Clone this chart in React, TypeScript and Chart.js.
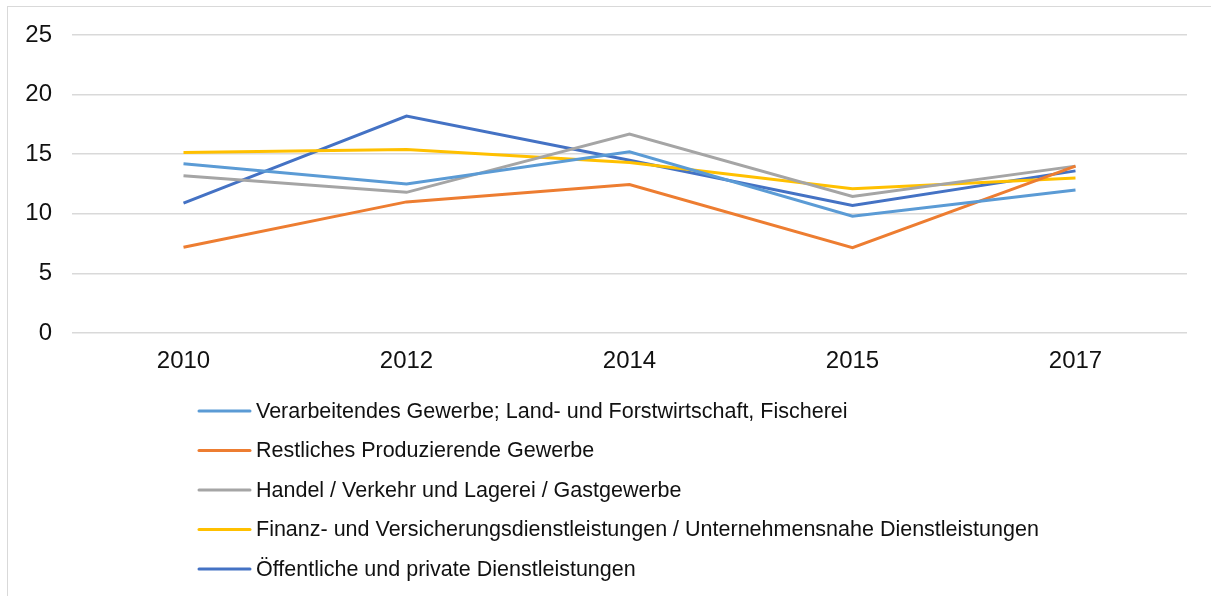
import React, { useEffect, useRef } from "react";
import { Chart, registerables } from "chart.js";

Chart.register(...registerables);

const categories = ["2010", "2012", "2014", "2015", "2017"];

const seriesLabels = [
  "Verarbeitendes Gewerbe; Land- und Forstwirtschaft, Fischerei",
  "Restliches Produzierende Gewerbe",
  "Handel / Verkehr und Lagerei / Gastgewerbe",
  "Finanz- und Versicherungsdienstleistungen / Unternehmensnahe Dienstleistungen",
  "Öffentliche und private Dienstleistungen",
];

const verarbeitendes = [14.2, 12.5, 15.2, 9.8, 12.0];
const restliches = [7.2, 11.0, 12.45, 7.15, 14.0];
const handel = [13.2, 11.8, 16.7, 11.45, 14.0];
const finanz = [15.15, 15.4, 14.3, 12.1, 13.0];
const oeffentlich = [10.9, 18.2, 14.5, 10.7, 13.6];

const seriesValues = [verarbeitendes, restliches, handel, finanz, oeffentlich];
const seriesColors = ["#5B9BD5", "#ED7D31", "#A5A5A5", "#FFC000", "#4472C4"];

const yTicks = [0, 5, 10, 15, 20, 25];

const FONT = "'Liberation Sans', Arial, sans-serif";

const legendPlugin = {
  id: "verticalLegend",
  afterDraw(chart: any) {
    const ctx = chart.ctx;
    ctx.save();
    const startY = 404;
    const step = 39.5;
    chart.data.datasets.forEach((ds: any, i: number) => {
      const y = startY + i * step;
      ctx.strokeStyle = ds.borderColor;
      ctx.lineWidth = 3;
      ctx.lineCap = "round";
      ctx.beginPath();
      ctx.moveTo(191, y);
      ctx.lineTo(242, y);
      ctx.stroke();
      ctx.fillStyle = "#111";
      ctx.font = `21.5px ${FONT}`;
      ctx.textBaseline = "middle";
      ctx.textAlign = "left";
      ctx.fillText(ds.label, 248, y + 1);
    });
    ctx.restore();
  },
};

export default function App() {
  const canvasRef = useRef<HTMLCanvasElement | null>(null);

  useEffect(() => {
    if (!canvasRef.current) return;
    const chart = new Chart(canvasRef.current, {
      type: "line",
      data: {
        labels: categories,
        datasets: seriesLabels.map((label, i) => ({
          label,
          data: seriesValues[i],
          borderColor: seriesColors[i],
          backgroundColor: seriesColors[i],
          borderWidth: 3,
          pointRadius: 0,
          tension: 0,
          fill: false,
        })),
      },
      options: {
        responsive: false,
        animation: false,
        layout: { padding: { top: 28, right: 24, left: 0, bottom: 0 } },
        plugins: {
          legend: { display: false },
          tooltip: { enabled: false },
        },
        scales: {
          x: {
            offset: true,
            grid: { display: false, drawTicks: false },
            border: { display: false },
            ticks: {
              color: "#111",
              font: { family: FONT, size: 24 },
              padding: 14,
            },
            afterFit(scale: any) {
              scale.height = 589 - 326;
            },
          },
          y: {
            min: 0,
            max: 25,
            afterBuildTicks(scale: any) {
              scale.ticks = yTicks.map((v) => ({ value: v }));
            },
            grid: { color: "#d9d9d9", lineWidth: 1.5, drawTicks: false },
            border: { display: false },
            ticks: {
              color: "#111",
              font: { family: FONT, size: 24 },
              padding: 20,
            },
            afterFit(scale: any) {
              scale.width = 64;
              scale.paddingTop = 0;
              scale.paddingBottom = 0;
            },
          },
        },
      },
      plugins: [legendPlugin],
    });
    return () => chart.destroy();
  }, []);

  return (
    <div
      style={{
        position: "fixed",
        left: 7,
        top: 6,
        width: 1220,
        height: 620,
        border: "1px solid #d9d9d9",
        background: "#fff",
      }}
    >
      <canvas ref={canvasRef} width={1203} height={589} style={{ display: "block" }} />
    </div>
  );
}
